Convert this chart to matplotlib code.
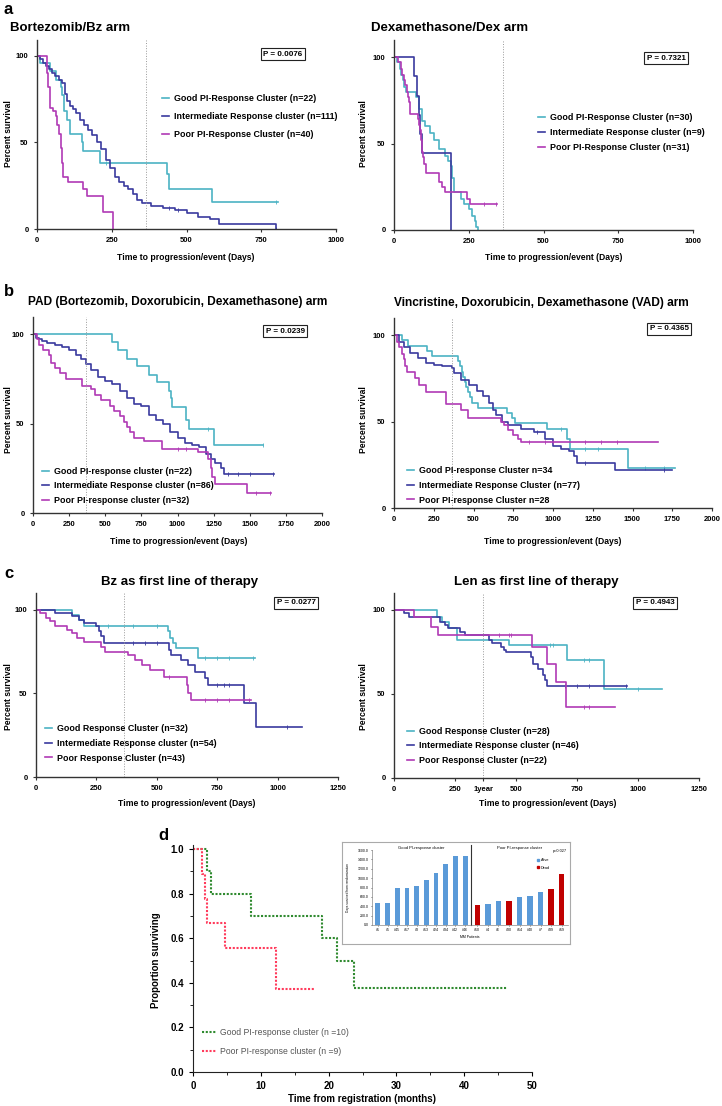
import numpy as np
import matplotlib
matplotlib.use('Agg')
import matplotlib.pyplot as plt

# ---- data ----
# a: Bortezomib / Dexamethasone arms (days, % survival)
bz_good_t = [0, 10, 45, 65, 80, 85, 90, 100, 110, 150, 155, 210, 435, 440, 585, 805]
bz_good_s = [100, 95.5, 91, 86, 82, 77, 68, 63, 55, 50, 45, 38, 32, 23, 15.5, 15.5]
bz_int_t = [0, 10, 20, 30, 40, 50, 60, 75, 85, 92, 100, 110, 120, 132, 145, 158, 170, 185, 200,
            215, 230, 245, 260, 275, 290, 305, 320, 335, 350, 380, 420, 460, 500, 540, 580, 610, 800]
bz_int_s = [100, 98, 96, 94, 92, 90, 88, 86, 84, 78, 74, 71, 69, 67, 63, 60, 57, 54, 50,
            46, 40, 35, 30, 27, 25, 23, 20, 17, 15, 13, 12, 11, 9, 7, 6, 3, 0]
bz_poor_t = [0, 35, 38, 42, 45, 55, 62, 68, 75, 80, 84, 88, 105, 155, 168, 222, 255]
bz_poor_s = [100, 90, 82, 75, 70, 68, 65, 60, 55, 47, 38, 30, 27, 23, 19, 10, 0]

dex_good_t = [0, 10, 20, 25, 30, 35, 40, 75, 85, 95, 105, 120, 135, 150, 170, 180, 190, 195, 200,
              225, 235, 250, 260, 270, 275, 282]
dex_good_s = [100, 97, 93, 90, 87, 83, 80, 77, 70, 63, 60, 56, 52, 47, 43, 40, 37, 30, 22,
              18, 15, 12, 8, 5, 2, 0]
dex_int_t = [0, 67, 77, 84, 88, 92, 192]
dex_int_s = [100, 88.9, 77.8, 66.7, 55.6, 44.4, 0]
dex_poor_t = [0, 15, 22, 28, 33, 38, 42, 46, 50, 54, 80, 84, 87, 90, 93, 96, 100, 106, 150, 160,
              172, 245, 255, 345]
dex_poor_s = [100, 97, 93, 90, 87, 84, 80, 77, 74, 67, 64, 61, 58, 52, 45, 42, 38, 33, 28, 25,
              22, 18, 15, 15]

# b: PAD / VAD arms
pad_good_t = [0, 545, 590, 650, 720, 800, 860, 940, 955, 965, 1060, 1080, 1250, 1595]
pad_good_s = [100, 95.5, 91, 86, 82, 77, 73, 68, 64, 59, 52, 47, 38, 38]
pad_int_t = [0, 20, 40, 60, 100, 150, 200, 250, 300, 330, 365, 400, 450, 500, 550, 600, 650, 700,
             750, 800, 850, 900, 950, 1000, 1050, 1100, 1150, 1200, 1230, 1260, 1300, 1320, 1670]
pad_int_s = [100, 98, 97, 96, 95, 94, 93, 91, 88, 86, 83, 80, 76, 74, 72, 68, 64, 61,
             60, 55, 52, 50, 45, 42, 39, 38, 37, 33, 30, 28, 25, 22, 22]
pad_poor_t = [0, 25, 40, 70, 110, 125, 150, 185, 230, 340, 400, 430, 470, 530, 560, 600, 630, 650,
              670, 700, 770, 890, 1140, 1210, 1230, 1240, 1260, 1480, 1650]
pad_poor_s = [100, 97, 94, 91, 88, 84, 81, 78, 75, 71, 69, 66, 63, 60, 57, 54, 51, 48,
              45, 42, 40, 36, 34, 30, 25, 20, 16, 11, 11]

vad_good_t = [0, 50, 90, 210, 240, 405, 415, 425, 435, 445, 455, 465, 475, 490, 530, 710, 740, 760,
              960, 1090, 1110, 1470, 1770]
vad_good_s = [100, 97, 94, 91, 88, 85, 82, 79, 76, 73, 70, 67, 64, 61, 58, 55, 52, 49,
              46, 40, 34, 23, 23]
vad_int_t = [0, 30, 60, 100, 150, 200, 250, 300, 365, 380, 420, 470, 520, 560, 600, 620, 640, 680,
             720, 800, 880, 950, 1000, 1050, 1100, 1130, 1150, 1390, 1750]
vad_int_s = [100, 96, 93, 90, 87, 84, 83, 82, 81, 78, 74, 71, 68, 65, 61, 57, 54, 50,
             48, 46, 44, 40, 36, 34, 33, 30, 26, 22, 22]
vad_poor_t = [0, 20, 30, 50, 60, 70, 80, 130, 160, 200, 330, 420, 465, 670, 690, 720, 750, 780, 800, 1660]
vad_poor_s = [100, 96, 93, 89, 86, 82, 79, 75, 71, 67, 60, 57, 52, 50, 48, 45, 42, 40, 38, 38]

# c: Bz / Len as first line
bzf_good_t = [0, 150, 180, 200, 545, 555, 565, 580, 670, 905]
bzf_good_s = [100, 97, 94, 90, 87, 83, 80, 77, 71, 71]
bzf_int_t = [0, 80, 150, 180, 200, 250, 260, 270, 280, 550, 560, 600, 630, 660, 700, 710, 860, 910, 1100]
bzf_int_s = [100, 98, 96, 94, 92, 90, 87, 84, 80, 76, 73, 70, 67, 63, 59, 55, 44, 30, 30]
bzf_poor_t = [0, 15, 40, 60, 80, 130, 150, 170, 200, 270, 285, 380, 410, 440, 470, 530, 625, 630, 640, 890]
bzf_poor_s = [100, 98, 95, 93, 90, 88, 86, 83, 81, 78, 75, 73, 70, 67, 64, 60, 55, 50, 46, 46]

len_good_t = [0, 178, 198, 225, 260, 470, 710, 861, 1100]
len_good_s = [100, 96, 93, 89, 82, 79, 70, 53, 53]
len_int_t = [0, 40, 60, 190, 210, 220, 270, 290, 390, 400, 440, 450, 460, 560, 570, 590, 610, 618, 626, 955]
len_int_s = [100, 98, 96, 93, 91, 89, 87, 85, 82, 80, 78, 76, 75, 72, 68, 65, 61, 58, 55, 55]
len_poor_t = [0, 82, 150, 180, 565, 628, 663, 703, 905]
len_poor_s = [100, 96, 90, 85, 78, 68, 57, 42, 42]

# censored observations (days)
bz_good_c = [230, 800]
bz_int_c = [440, 470, 800]
dex_poor_c = [300, 340]
pad_good_c = [1210, 1590]
pad_int_c = [1350, 1420, 1500, 1660]
pad_poor_c = [1000, 1060, 1540, 1640]
vad_good_c = [1050, 1200, 1280, 1580, 1700]
vad_int_c = [900, 1200, 1700]
vad_poor_c = [850, 950, 1000, 1200, 1300, 1400]
bzf_good_c = [300, 400, 500, 700, 750, 800, 900]
bzf_int_c = [400, 450, 500, 750, 780, 800, 1040]
bzf_poor_c = [550, 700, 750, 800, 880]
len_good_c = [640, 650, 780, 800, 1000]
len_int_c = [700, 750, 800, 950]
len_poor_c = [430, 470, 480, 780, 800]

# d: proportion surviving (months)
d_good_t = [0, 2.0, 2.7, 8.5, 19.0, 21.2, 23.7, 46.3]
d_good_s = [1.0, 0.9, 0.8, 0.7, 0.6, 0.5, 0.375, 0.375]
d_poor_t = [0, 1.3, 1.7, 2.0, 4.7, 12.2, 18.0]
d_poor_s = [1.0, 0.889, 0.778, 0.667, 0.556, 0.370, 0.370]

# inset bars
good_ids = ['#1', '#5', '#45', '#17', '#3', '#13', '#24', '#34', '#42', '#46']
good_days = [470, 480, 790, 800, 840, 970, 1110, 1310, 1470, 1470]
poor_ids = ['#10', '#4', '#6', '#30', '#14', '#40', '#7', '#39', '#19']
poor_days = [420, 450, 510, 510, 600, 610, 710, 760, 1080]
poor_dead = [True, False, False, True, False, False, False, True, True]

# ---- drawing ----
plt.rcParams['font.family'] = ['Liberation Sans', 'DejaVu Sans']
W, H = 722, 1106
TEAL, INDIGO, MAGENTA = '#4cb3c4', '#3a3a9e', '#b03ab5'
AXC = '#333333'

fig = plt.figure(figsize=(W / 100, H / 100), dpi=100)


def box(x0, y0, x1, y1):  # pixel box -> figure fraction
    return [x0 / W, 1 - y1 / H, (x1 - x0) / W, (y1 - y0) / H]


def fx(x):
    return x / W


def fy(y):
    return 1 - y / H


def bold(t, x, y, size, **kw):
    fig.text(fx(x), fy(y), t, fontsize=size, weight='bold', **kw)


def km_panel(pos, xmax, xstep, ytop, curves, labels, leg_xy, spacing, pval, pxy):
    ax = fig.add_axes(box(*pos))
    for (t, s, cens), lab, c in zip(curves, labels, [TEAL, INDIGO, MAGENTA]):
        ax.step(t, s, where='post', color=c, lw=1.2, label=lab)
        if cens:
            idx = np.searchsorted(t, cens, side='right') - 1
            ax.plot(cens, np.array(s)[idx], '|', color=c, ms=2.5, mew=0.6)
    ax.axvline(365, color='#999999', ls=':', lw=0.7)
    ax.set_xlim(0, xmax)
    ax.set_ylim(0, ytop)
    ax.set_xticks(np.arange(0, xmax + 1, xstep))
    ax.set_yticks([0, 50, 100])
    for sp in ['top', 'right']:
        ax.spines[sp].set_visible(False)
    for sp in ['left', 'bottom']:
        ax.spines[sp].set_color(AXC)
        ax.spines[sp].set_linewidth(1.0)
    ax.tick_params(labelsize=5.5, length=2.5, width=0.8, color=AXC)
    for lab in ax.get_xticklabels() + ax.get_yticklabels():
        lab.set_fontweight('bold')
    ax.legend(loc='upper left', bbox_to_anchor=(fx(leg_xy[0]), fy(leg_xy[1])),
              bbox_transform=fig.transFigure, frameon=False, borderpad=0,
              borderaxespad=0, handlelength=0.8, handletextpad=0.6,
              labelspacing=spacing, prop={'weight': 'bold', 'size': 6.4})
    fig.text(fx(pxy[0]), fy(pxy[1]), pval, ha='center', va='center', fontsize=5.8,
             weight='bold', bbox=dict(boxstyle='square,pad=0.3', fc='white', ec='#222222', lw=0.8))
    return ax


lab_a1 = ['Good PI-Response Cluster (n=22)', 'Intermediate Response cluster (n=111)',
          'Poor PI-Response Cluster (n=40)']
lab_a2 = ['Good PI-Response Cluster (n=30)', 'Intermediate Response cluster (n=9)',
          'Poor PI-Response Cluster (n=31)']
lab_b1 = ['Good PI-response cluster (n=22)', 'Intermediate Response cluster (n=86)',
          'Poor PI-response cluster (n=32)']
lab_b2 = ['Good PI-response Cluster n=34', 'Intermediate Response Cluster (n=77)',
          'Poor PI-response Cluster n=28']
lab_c1 = ['Good Response Cluster (n=32)', 'Intermediate Response cluster (n=54)',
          'Poor Response Cluster (n=43)']
lab_c2 = ['Good Response Cluster (n=28)', 'Intermediate Response cluster (n=46)',
          'Poor Response Cluster (n=22)']

km_panel((37, 40, 336, 229), 1000, 250, 109,
         [(bz_good_t, bz_good_s, bz_good_c), (bz_int_t, bz_int_s, bz_int_c),
          (bz_poor_t, bz_poor_s, None)],
         lab_a1, (162, 94), 1.0, 'P = 0.0076', (283, 54))
km_panel((394, 40, 693, 230), 1000, 250, 110,
         [(dex_good_t, dex_good_s, None), (dex_int_t, dex_int_s, None),
          (dex_poor_t, dex_poor_s, dex_poor_c)],
         lab_a2, (538, 113), 0.7, 'P = 0.7321', (666, 58))
km_panel((33, 317, 322, 513), 2000, 250, 109.5,
         [(pad_good_t, pad_good_s, pad_good_c), (pad_int_t, pad_int_s, pad_int_c),
          (pad_poor_t, pad_poor_s, pad_poor_c)],
         lab_b1, (42, 467), 0.6, 'P = 0.0239', (285, 331))
km_panel((394, 318, 712, 508), 2000, 250, 110,
         [(vad_good_t, vad_good_s, vad_good_c), (vad_int_t, vad_int_s, vad_int_c),
          (vad_poor_t, vad_poor_s, vad_poor_c)],
         lab_b2, (407, 466), 0.65, 'P = 0.4365', (669, 329))
km_panel((36, 593, 338, 777), 1250, 250, 110,
         [(bzf_good_t, bzf_good_s, bzf_good_c), (bzf_int_t, bzf_int_s, bzf_int_c),
          (bzf_poor_t, bzf_poor_s, bzf_poor_c)],
         lab_c1, (45, 724), 0.65, 'P = 0.0277', (296, 603))
ax_len = km_panel((394, 593, 699, 778), 1250, 250, 110,
                  [(len_good_t, len_good_s, len_good_c), (len_int_t, len_int_s, len_int_c),
                   (len_poor_t, len_poor_s, len_poor_c)],
                  lab_c2, (407, 727), 0.6, 'P = 0.4943', (655, 603))
ax_len.set_xticks([0, 250, 365, 500, 750, 1000, 1250])
ax_len.set_xticklabels(['0', '250', '1year', '500', '750', '1000', '1250'], fontweight='bold')

# titles, letters, axis labels
bold('a', 4, 10, 12, va='center')
bold('b', 4, 292, 12, va='center')
bold('c', 4, 573, 12, va='center')
bold('d', 158, 835, 12, va='center')
bold('Bortezomib/Bz arm', 10, 28, 9.5, va='center')
bold('Dexamethasone/Dex arm', 371, 28, 9.5, va='center')
bold('PAD (Bortezomib, Doxorubicin, Dexamethasone) arm', 178, 302, 8.6, va='center', ha='center')
bold('Vincristine, Doxorubicin, Dexamethasone (VAD) arm', 541, 303, 8.6, va='center', ha='center')
bold('Bz as first line of therapy', 180, 582, 9.5, va='center', ha='center')
bold('Len as first line of therapy', 536, 582, 9.5, va='center', ha='center')

xl = 'Time to progression/event (Days)'
for x, y in [(186, 257), (554, 257), (179, 541), (553, 541), (187, 803), (548, 803)]:
    bold(xl, x, y, 6.2, ha='center', va='center')
for x, y in [(9, 134), (364, 134), (9, 420), (364, 420), (9, 697), (364, 697)]:
    bold('Percent survival', x, y, 6.2, ha='center', va='center', rotation=90)

# ---- panel d ----
axd = fig.add_axes(box(193, 845, 532, 1072))
axd.step(d_good_t, d_good_s, where='post', color='#2f8a2f', lw=1.5, ls=(0, (1, 0.8)),
         label='Good PI-response cluster (n =10)')
axd.step(d_poor_t, d_poor_s, where='post', color='#ff3b5c', lw=1.5, ls=(0, (1, 0.8)),
         label='Poor PI-response cluster (n =9)')
axd.set_xlim(0, 50)
axd.set_ylim(0, 1.018)
axd.set_xticks(np.arange(0, 51, 10))
axd.set_xticks(np.arange(0, 51, 5), minor=True)
axd.set_yticks(np.arange(0, 1.01, 0.2))
axd.set_yticks(np.arange(0, 1.01, 0.1), minor=True)
axd.set_yticklabels(['%.1f' % v for v in np.arange(0, 1.01, 0.2)])
for sp in ['top', 'right']:
    axd.spines[sp].set_visible(False)
for sp in ['left', 'bottom']:
    axd.spines[sp].set_color('#222222')
axd.tick_params(labelsize=7, length=3, width=0.8)
axd.tick_params(which='minor', length=2, width=0.6)
for lab in axd.get_xticklabels() + axd.get_yticklabels():
    lab.set_fontweight('bold')
leg = axd.legend(loc='upper left', bbox_to_anchor=(fx(202), fy(1028)), bbox_transform=fig.transFigure,
                 frameon=False, borderpad=0, borderaxespad=0, handlelength=1.6,
                 handletextpad=0.5, labelspacing=1.2, prop={'size': 6.2})
for tx in leg.get_texts():
    tx.set_color('#555555')
bold('Time from registration (months)', 362, 1099, 7, ha='center', va='center')
bold('Proportion surviving', 156, 960, 7, ha='center', va='center', rotation=90)

# ---- inset ----
frame = fig.add_axes(box(342, 842, 570, 944))
frame.set_xticks([])
frame.set_yticks([])
for sp in frame.spines.values():
    sp.set_color('#aaaaaa')
    sp.set_linewidth(0.8)

BLUE, RED = '#5a9ad8', '#c00000'
axg = fig.add_axes(box(372, 850, 471, 925))
axg.bar(range(len(good_days)), good_days, width=0.5, color=BLUE)
axp = fig.add_axes(box(471, 850, 568, 925))
axp.bar(range(len(poor_days)), poor_days, width=0.5,
        color=[RED if d else BLUE for d in poor_dead])
for ax, ids, ttl in [(axg, good_ids, 'Good PI-response cluster'),
                     (axp, poor_ids, 'Poor PI-response cluster')]:
    ax.set_ylim(0, 1600)
    ax.set_xlim(-0.6, len(ids) - 0.4)
    ax.set_xticks(range(len(ids)))
    ax.set_xticklabels(ids, fontsize=2.5)
    ax.set_yticks(np.arange(0, 1601, 200))
    ax.set_yticklabels(['%.1f' % v for v in np.arange(0, 1601, 200)], fontsize=2.5)
    ax.tick_params(length=1, width=0.4, pad=1.5)
    ax.set_title(ttl, fontsize=3, pad=1)
    for sp in ['top', 'right']:
        ax.spines[sp].set_visible(False)
    ax.spines['bottom'].set_color('#888888')
    ax.spines['bottom'].set_linewidth(0.5)
    ax.spines['left'].set_linewidth(0.5)
axp.tick_params(axis='y', left=False, labelleft=False)
axp.spines['left'].set_color('#333333')
axp.spines['left'].set_linewidth(0.8)
axp.spines['left'].set_bounds(0, 1700)
axg.spines['left'].set_color('#888888')
fig.text(fx(348), fy(888), 'Days survived from randomization', fontsize=2.3,
         rotation=90, ha='center', va='center')
fig.text(fx(470), fy(937), 'MM Patients', fontsize=2.5, ha='center', va='center')
fig.text(fx(560), fy(851), 'p=0.027', fontsize=2.8, ha='center', va='center')
axp.plot([], [], 's', color=BLUE, ms=2, label='Alive')
axp.plot([], [], 's', color=RED, ms=2, label='Dead')
axp.legend(loc='upper left', bbox_to_anchor=(fx(534), fy(856)), bbox_transform=fig.transFigure,
           frameon=False, fontsize=2.8, borderpad=0, handlelength=0.8, labelspacing=1.0,
           handletextpad=0.5)

fig.savefig('out.png', dpi=100)
